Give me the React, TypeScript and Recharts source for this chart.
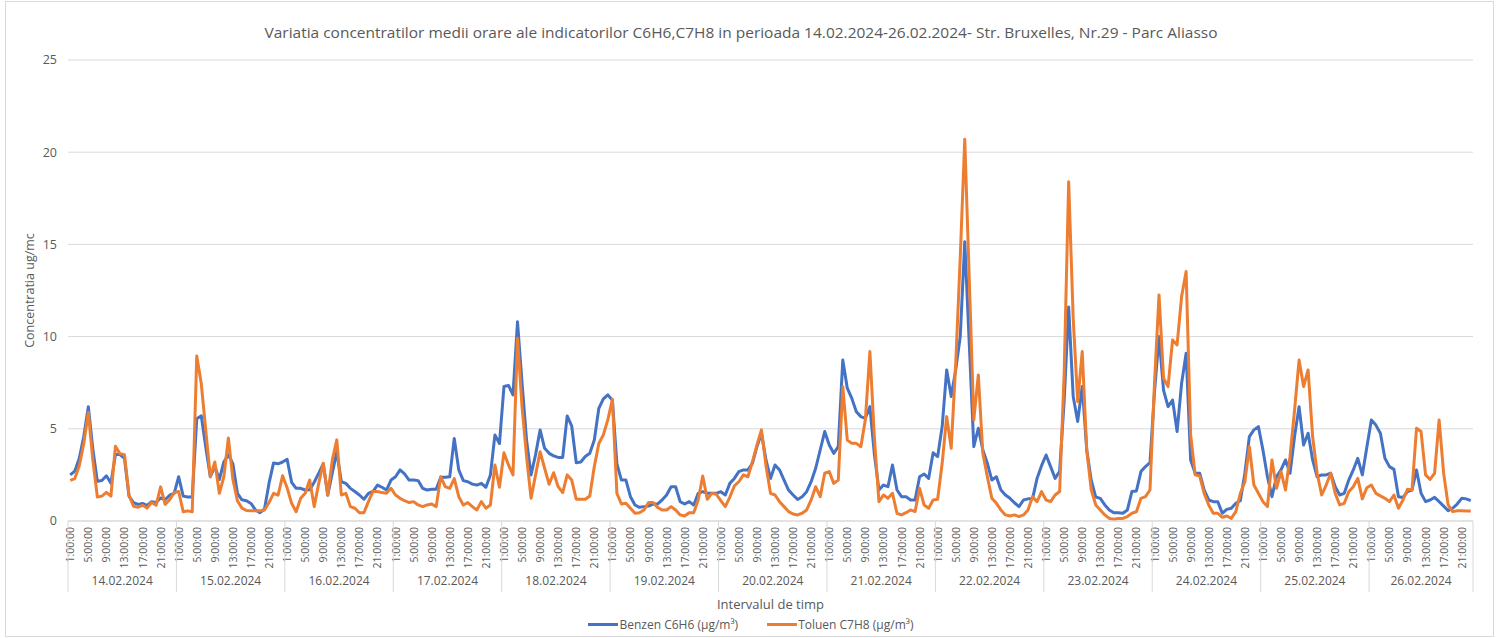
import React from 'react';
import { LineChart, Line, XAxis, YAxis, CartesianGrid, Legend } from 'recharts';

const dates = [
  '14.02.2024', '15.02.2024', '16.02.2024', '17.02.2024', '18.02.2024', '19.02.2024', '20.02.2024',
  '21.02.2024', '22.02.2024', '23.02.2024', '24.02.2024', '25.02.2024', '26.02.2024',
];
const hoursPerDay = [24, 24, 24, 24, 24, 24, 24, 24, 24, 24, 24, 24, 23];
const labeledHours = [1, 5, 9, 13, 17, 21];
const yTicks = [0, 5, 10, 15, 20, 25];

const benzen = [
  2.5, 2.7, 3.4, 4.6, 6.2, 3.9, 2.15, 2.2, 2.45, 2.05, 3.6, 3.6, 3.4, 1.35, 1.0, 0.9, 0.95, 0.85, 1.05, 1.0, 1.25, 1.15, 1.4, 1.5,
  2.4, 1.35, 1.3, 1.3, 5.55, 5.7, 4.0, 2.4, 2.95, 2.25, 3.2, 3.6, 3.1, 1.5, 1.15, 1.1, 0.95, 0.6, 0.45, 0.65, 2.05, 3.15, 3.1, 3.2,
  3.35, 2.1, 1.77, 1.77, 1.68, 1.7, 2.1, 2.6, 3.1, 1.4, 2.6, 3.75, 2.13, 2.04, 1.77, 1.6, 1.41, 1.18, 1.5, 1.6, 1.95, 1.83, 1.68, 2.22,
  2.4, 2.77, 2.55, 2.22, 2.22, 2.19, 1.77, 1.68, 1.72, 1.72, 2.37, 2.37, 2.4, 4.48, 2.77, 2.19, 2.13, 2.0, 1.95, 2.04, 1.83, 2.5, 4.67, 4.2,
  7.29, 7.35, 6.84, 10.8, 7.5, 4.4, 2.5, 3.6, 4.94, 3.94, 3.67, 3.53, 3.45, 3.45, 5.7, 5.15, 3.16, 3.2, 3.5, 3.67, 4.39, 6.11, 6.62, 6.84,
  6.55, 3.1, 2.22, 2.22, 1.32, 0.87, 0.74, 0.78, 0.81, 0.92, 0.92, 1.14, 1.41, 1.86, 1.86, 1.05, 0.92, 1.05, 0.87, 1.5, 1.59, 1.5, 1.5, 1.5,
  1.59, 1.41, 2.04, 2.31, 2.68, 2.77, 2.77, 3.13, 4.03, 4.76, 3.31, 2.31, 3.04, 2.77, 2.22, 1.68, 1.41, 1.17, 1.32, 1.59, 2.13, 2.86, 3.85, 4.85,
  4.12, 3.67, 4.03, 8.73, 7.2, 6.65, 5.93, 5.66, 5.57, 6.2, 3.6, 1.68, 1.95, 1.86, 3.04, 1.68, 1.32, 1.32, 1.14, 1.14, 2.4, 2.55, 2.31, 3.7,
  3.49, 5.12, 8.19, 6.75, 8.2, 10.0, 15.15, 9.6, 4.03, 5.03, 3.85, 3.13, 2.22, 2.4, 1.68, 1.41, 1.23, 0.99, 0.78, 1.14, 1.2, 1.2, 2.31, 3.0,
  3.58, 2.95, 2.31, 2.7, 6.5, 11.6, 6.75, 5.4, 7.3, 3.85, 2.2, 1.3, 1.23, 0.87, 0.6, 0.45, 0.45, 0.42, 0.6, 1.6, 1.63, 2.68, 2.95, 3.16,
  7.0, 10.0, 7.1, 6.2, 6.56, 4.85, 7.47, 9.1, 3.31, 2.59, 2.59, 1.68, 1.14, 1.05, 1.05, 0.42, 0.63, 0.69, 0.96, 1.1, 2.59, 4.58, 4.94, 5.12,
  3.85, 2.4, 1.32, 2.4, 2.77, 3.31, 2.59, 4.58, 6.2, 4.12, 4.76, 3.31, 2.4, 2.5, 2.5, 2.59, 1.86, 1.41, 1.5, 2.22, 2.77, 3.4, 2.5, 4.0,
  5.48, 5.2, 4.76, 3.4, 2.95, 2.8, 1.32, 1.28, 1.6, 1.68, 2.77, 1.5, 1.05, 1.14, 1.28, 1.05, 0.81, 0.56, 0.69, 0.92, 1.23, 1.2, 1.1,
];

const toluen = [
  2.2, 2.3, 3.0, 4.2, 5.9, 3.3, 1.3, 1.35, 1.55, 1.35, 4.05, 3.65, 3.6, 1.4, 0.8, 0.75, 0.85, 0.7, 1.0, 0.85, 1.85, 0.9, 1.15, 1.55,
  1.6, 0.5, 0.55, 0.5, 8.95, 7.45, 4.9, 2.4, 3.2, 1.5, 2.4, 4.5, 2.25, 1.1, 0.7, 0.57, 0.55, 0.55, 0.55, 0.6, 1.0, 1.5, 1.4, 2.45,
  1.8, 0.96, 0.5, 1.23, 1.5, 2.22, 0.78, 2.04, 3.13, 1.41, 3.3, 4.4, 1.41, 1.5, 0.78, 0.69, 0.45, 0.45, 1.05, 1.6, 1.6, 1.54, 1.5, 1.77,
  1.41, 1.23, 1.1, 1.0, 1.05, 0.87, 0.78, 0.87, 0.92, 0.78, 2.4, 1.86, 1.77, 2.3, 1.32, 0.87, 1.0, 0.78, 0.6, 1.05, 0.69, 0.87, 3.04, 1.83,
  3.7, 3.04, 2.5, 9.91, 6.2, 3.5, 1.23, 2.5, 3.76, 2.86, 1.99, 2.62, 1.86, 1.54, 2.5, 2.22, 1.18, 1.18, 1.18, 1.36, 2.95, 4.2, 4.67, 5.5,
  6.6, 1.5, 0.92, 0.96, 0.69, 0.42, 0.45, 0.6, 1.0, 1.0, 0.74, 0.6, 0.6, 0.78, 0.6, 0.33, 0.27, 0.45, 0.45, 1.14, 2.44, 1.18, 1.5, 1.45,
  1.1, 0.78, 1.3, 1.9, 2.13, 2.5, 2.4, 3.22, 4.12, 4.94, 3.0, 1.5, 1.41, 1.05, 0.78, 0.51, 0.38, 0.33, 0.42, 0.6, 1.14, 1.86, 1.32, 2.59,
  2.68, 2.04, 2.22, 7.29, 4.39, 4.21, 4.21, 4.03, 5.5, 9.19, 4.5, 1.05, 1.41, 1.23, 1.5, 0.42, 0.33, 0.45, 0.6, 0.51, 1.77, 0.87, 0.69, 1.14,
  1.18, 3.13, 5.66, 3.94, 8.55, 14.3, 20.7, 13.1, 5.48, 7.92, 3.67, 2.4, 1.23, 0.96, 0.6, 0.33, 0.27, 0.33, 0.24, 0.33, 0.6, 1.32, 1.05, 1.59,
  1.14, 1.05, 1.41, 1.6, 8.0, 18.4, 11.0, 6.47, 9.19, 3.85, 1.68, 0.87, 0.6, 0.33, 0.14, 0.09, 0.14, 0.14, 0.24, 0.42, 0.5, 1.23, 1.32, 1.68,
  7.5, 12.26, 7.74, 7.29, 9.82, 9.55, 12.17, 13.53, 4.67, 2.5, 2.44, 1.5, 0.87, 0.42, 0.42, 0.2, 0.27, 0.14, 0.51, 1.5, 2.13, 4.03, 1.95, 1.5,
  1.05, 0.78, 3.31, 1.77, 2.68, 1.68, 3.5, 6.0, 8.73, 7.29, 8.19, 4.58, 2.59, 1.41, 1.95, 2.59, 1.5, 0.87, 0.96, 1.59, 1.86, 2.31, 1.2, 1.8,
  1.95, 1.5, 1.36, 1.23, 1.05, 1.41, 0.69, 1.14, 1.72, 1.68, 5.03, 4.85, 2.5, 2.26, 2.59, 5.48, 2.59, 0.87, 0.51, 0.56, 0.56, 0.54, 0.54,
];

type Row = { idx: number; day: number; hour: number; benzen: number; toluen: number };
const rows: Row[] = [];
{
  let k = 0;
  dates.forEach((_, di) => {
    for (let h = 1; h <= hoursPerDay[di]; h++) {
      rows.push({ idx: k, day: di, hour: h, benzen: benzen[k], toluen: toluen[k] });
      k++;
    }
  });
}

const W = 1502;
const H = 638;
const PLOT_L = 68;
const PLOT_R = 1473;
const PLOT_T = 60;
const PLOT_B = 521;
const BAND = (PLOT_R - PLOT_L) / rows.length;
const FONT = "'Open Sans', 'Noto Sans', sans-serif";
const TEXT = '#595959';
const GRID = '#d9d9d9';

function XTick(props: any) {
  const { x, payload } = props;
  const i = Number(payload.value);
  const row = rows[i];
  if (!row) return null;
  const els: React.ReactNode[] = [];
  if (labeledHours.includes(row.hour)) {
    const ty = PLOT_B + 6;
    els.push(
      <text key="h" x={x} y={ty} transform={`rotate(-90 ${x} ${ty})`} textAnchor="end" dominantBaseline="central"
        fontSize={10.5} fill={TEXT} fontFamily={FONT}>{`${row.hour}:00:00`}</text>
    );
  }
  if (row.hour === 1) {
    els.push(<line key="s" x1={x - BAND / 2} x2={x - BAND / 2} y1={PLOT_B} y2={PLOT_B + 71} stroke={GRID} strokeWidth={1} />);
  }
  if (i === rows.length - 1) {
    els.push(<line key="e" x1={x + BAND / 2} x2={x + BAND / 2} y1={PLOT_B} y2={PLOT_B + 71} stroke={GRID} strokeWidth={1} />);
  }
  const n = hoursPerDay[row.day];
  const mid = Math.floor(n / 2) + 1;
  if (row.hour === mid) {
    const cx = x + (n / 2 - (mid - 0.5)) * BAND;
    els.push(
      <text key="d" x={cx} y={PLOT_B + 64} textAnchor="middle" fontSize={12} fill={TEXT} fontFamily={FONT}>{dates[row.day]}</text>
    );
  }
  return <g>{els}</g>;
}

function LegendContent(props: any) {
  const payload = props.payload || [];
  return (
    <div style={{ display: 'flex', justifyContent: 'center', alignItems: 'center', gap: 29, height: 24, fontFamily: FONT, fontSize: 12, color: TEXT }}>
      {payload.map((p: any) => (
        <div key={p.value} style={{ display: 'flex', alignItems: 'center' }}>
          <span style={{ display: 'inline-block', width: 30, height: 3, background: p.color, marginRight: 1 }} />
          <span>{p.value}</span>
        </div>
      ))}
    </div>
  );
}

function YLabel(props: any) {
  const vb = props.viewBox || { x: 0, y: PLOT_T, width: PLOT_L, height: PLOT_B - PLOT_T };
  const cx = 29;
  const cy = vb.y + vb.height / 2;
  return (
    <text x={cx} y={cy} transform={`rotate(-90 ${cx} ${cy})`} textAnchor="middle" dominantBaseline="central"
      fontSize={12.5} fill={TEXT} fontFamily={FONT}>Concentratia ug/mc</text>
  );
}

function XLabel(props: any) {
  const vb = props.viewBox || { x: PLOT_L, width: PLOT_R - PLOT_L };
  return (
    <text x={vb.x + vb.width / 2} y={604} textAnchor="middle" dominantBaseline="central" fontSize={13} fill={TEXT} fontFamily={FONT}>
      Intervalul de timp
    </text>
  );
}

export default function App() {
  return (
    <div style={{ position: 'absolute', left: 0, top: 0, width: W, height: H, background: '#ffffff' }}>
      <div style={{ position: 'absolute', left: 5, top: 1, width: 1487, height: 634, border: `1px solid ${GRID}` }} />
      <svg width={W} height={50} style={{ position: 'absolute', left: 0, top: 0 }}>
        <text x={741} y={32} textAnchor="middle" dominantBaseline="central" fontSize={15} fill={TEXT}
          fontFamily="'Liberation Sans Narrow', 'Open Sans', sans-serif" textLength={953} lengthAdjust="spacingAndGlyphs">
          Variatia concentratilor medii orare ale indicatorilor C6H6,C7H8 in perioada 14.02.2024-26.02.2024- Str. Bruxelles, Nr.29 - Parc Aliasso
        </text>
      </svg>
      <div style={{ position: 'absolute', left: 0, top: 0 }}>
        <LineChart width={W} height={H} data={rows} margin={{ top: PLOT_T, right: W - PLOT_R, bottom: 0, left: 0 }}>
          <CartesianGrid horizontal={true} vertical={false} stroke={GRID} strokeWidth={1} />
          <XAxis dataKey="idx" type="category" interval={0} height={93} tickLine={false}
            axisLine={{ stroke: GRID }} tick={<XTick />} padding={{ left: BAND / 2, right: BAND / 2 }}
            label={<XLabel />} />
          <YAxis domain={[0, 25]} ticks={yTicks} width={PLOT_L} tickLine={false} axisLine={false} tickSize={0} tickMargin={11}
            tick={{ fill: TEXT, fontSize: 12.5, fontFamily: FONT }} label={<YLabel />} />
          <Legend verticalAlign="bottom" height={24} content={<LegendContent />} wrapperStyle={{ left: 0, width: W, bottom: 2 }} />
          <Line type="linear" dataKey="benzen" name="Benzen C6H6 (µg/m³)" stroke="#4472C4" strokeWidth={3} dot={false}
            isAnimationActive={false} strokeLinejoin="round" />
          <Line type="linear" dataKey="toluen" name="Toluen C7H8 (µg/m³)" stroke="#ED7D31" strokeWidth={3} dot={false}
            isAnimationActive={false} strokeLinejoin="round" />
        </LineChart>
      </div>
    </div>
  );
}
